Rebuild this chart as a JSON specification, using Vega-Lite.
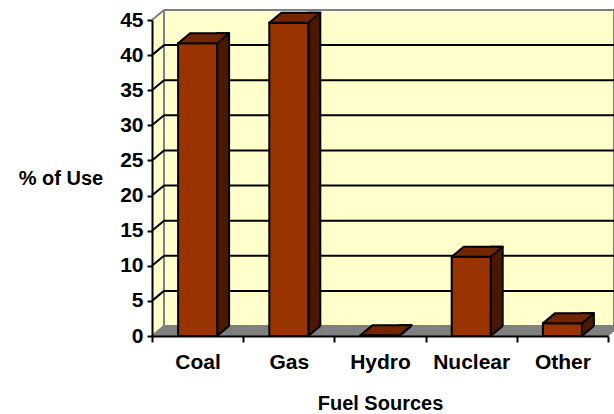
{
  "$schema": "https://vega.github.io/schema/vega-lite/v6.json",
  "width": 450,
  "height": 316,
  "autosize": {"type": "none"},
  "padding": {"left": 164, "top": 10, "right": 0, "bottom": 88},
  "background": "white",
  "view": {"fill": "#FFFFCC", "stroke": "#808080", "strokeWidth": 2},
  "config": {
    "axis": {
      "labelFont": "Liberation Sans",
      "titleFont": "Liberation Sans",
      "labelFontWeight": "bold",
      "titleFontWeight": "bold",
      "labelFontSize": 21,
      "titleFontSize": 20,
      "labelColor": "black",
      "titleColor": "black",
      "domainColor": "black",
      "tickColor": "black",
      "domainWidth": 2,
      "tickWidth": 2,
      "labelOverlap": false,
      "grid": false
    },
    "axisY": {
      "tickCount": 9,
      "labelOverlap": false
    }
  },
  "datasets": {
    "fuel": [
      {"fuel": "Coal", "pct": 41.7},
      {"fuel": "Gas", "pct": 44.6},
      {"fuel": "Hydro", "pct": 0.1},
      {"fuel": "Nuclear", "pct": 11.3},
      {"fuel": "Other", "pct": 1.8}
    ],
    "levels": [
      {"level": 0}, {"level": 5}, {"level": 10}, {"level": 15}, {"level": 20},
      {"level": 25}, {"level": 30}, {"level": 35}, {"level": 40}, {"level": 45}
    ]
  },
  "data": {"name": "fuel"},
  "layer": [
    {
      "data": {"name": "levels"},
      "mark": {"type": "rule", "strokeWidth": 2},
      "encoding": {
        "y": {
          "field": "level", "type": "quantitative", "scale": {"domain": [0, 45], "nice": false},
          "axis": {
            "title": "% of Use", "tickCount": 9,
            "labelOverlap": false,
            "offset": 12, "position": 10, "tickSize": 5, "labelPadding": 4,
            "titleAngle": 0, "titleX": -91.5, "titleY": 164, "titleAlign": "center", "titleBaseline": "alphabetic",
            "zindex": 1
          }
        },
        "stroke": {"condition": {"test": "datum.level == 0 || datum.level == 45", "value": "#808080"}, "value": "black"}
      }
    },
    {
      "transform": [{"filter": "datum.fuel == 'Coal'"}],
      "mark": {"type": "bar", "width": 11, "xOffset": -52.1, "y2Offset": 10, "fill": "#FFFFCC"},
      "encoding": {
        "x": {
          "datum": "Coal", "type": "nominal",
          "scale": {"domain": ["Coal", "Gas", "Hydro", "Nuclear", "Other"], "range": [0, 456], "paddingInner": 0, "paddingOuter": 0},
          "axis": {
            "title": "Fuel Sources", "position": -12, "offset": 10, "tickBand": "extent",
            "tickSize": 6, "labelPadding": 26, "labelBaseline": "alphabetic", "labelAngle": 0,
            "titleY": 73, "titleBaseline": "alphabetic", "zindex": 1
          }
        },
        "y": {"datum": 45, "type": "quantitative"},
        "y2": {"datum": 0}
      }
    },
    {
      "transform": [{"filter": "datum.fuel == 'Coal'"}],
      "mark": {"type": "point", "shape": "M-58.6,-1L-45.6,-1L-45.6,0L-57.6,10L-58.6,10Z", "size": 4, "filled": true, "fill": "white", "strokeWidth": 0, "opacity": 1},
      "encoding": {
        "x": {"datum": "Coal", "type": "nominal"},
        "y": {"datum": 45, "type": "quantitative"}
      }
    },
    {
      "mark": {"type": "point", "shape": "M-46.1,0L46.1,0L34.1,10L-58.1,10Z", "size": 4, "filled": true, "fill": "#808080", "strokeWidth": 0, "opacity": 1},
      "encoding": {
        "x": {"field": "fuel", "type": "nominal"},
        "y": {"datum": 0, "type": "quantitative"}
      }
    },
    {
      "data": {"name": "levels"},
      "mark": {"type": "point", "shape": "M-57.6,10L-45.6,0", "size": 4, "filled": false, "strokeWidth": 2, "opacity": 1},
      "encoding": {
        "x": {"datum": "Coal", "type": "nominal"},
        "y": {"field": "level", "type": "quantitative"},
        "stroke": {"condition": {"test": "datum.level == 0 || datum.level == 45", "value": "#808080"}, "value": "black"}
      }
    },
    {
      "mark": {"type": "bar", "width": 12, "xOffset": 13.5, "y2Offset": 10, "fill": "#4A1800", "stroke": "black", "strokeWidth": 2},
      "encoding": {
        "x": {"field": "fuel", "type": "nominal"},
        "y": {"field": "pct", "type": "quantitative"},
        "y2": {"datum": 0}
      }
    },
    {
      "mark": {"type": "point", "shape": "M7.5,10L21,10L21,0L19.5,0Z", "size": 4, "filled": true, "fill": "#808080", "strokeWidth": 0, "opacity": 1},
      "encoding": {
        "x": {"field": "fuel", "type": "nominal"},
        "y": {"datum": 0, "type": "quantitative"}
      }
    },
    {
      "mark": {"type": "point", "shape": "M7.5,10L19.5,0", "size": 4, "filled": false, "stroke": "black", "strokeWidth": 2, "opacity": 1},
      "encoding": {
        "x": {"field": "fuel", "type": "nominal"},
        "y": {"datum": 0, "type": "quantitative"}
      }
    },
    {
      "mark": {"type": "bar", "width": 39, "xOffset": -12, "yOffset": 10, "y2Offset": 10, "fill": "#993300", "stroke": "black", "strokeWidth": 2},
      "encoding": {
        "x": {"field": "fuel", "type": "nominal"},
        "y": {"field": "pct", "type": "quantitative"},
        "y2": {"datum": 0}
      }
    },
    {
      "mark": {"type": "point", "shape": "M-19.5,0L19.5,0L7.5,10L-31.5,10Z", "size": 4, "filled": true, "fill": "#732600", "stroke": "black", "strokeWidth": 2, "strokeJoin": "round", "opacity": 1},
      "encoding": {
        "x": {"field": "fuel", "type": "nominal"},
        "y": {"field": "pct", "type": "quantitative"}
      }
    }
  ]
}
